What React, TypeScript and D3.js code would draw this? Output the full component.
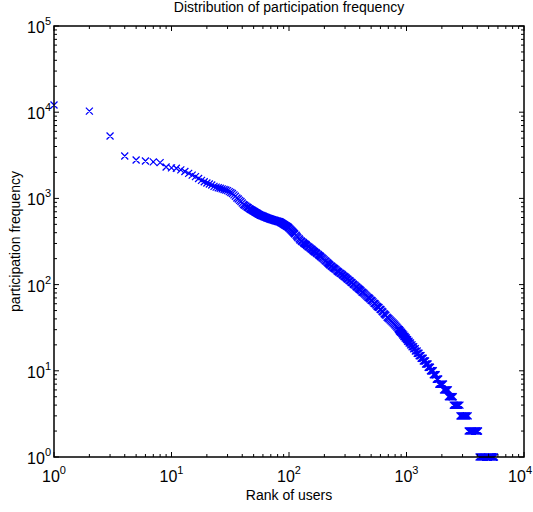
import React from 'react';
import * as d3 from 'd3';

const WIDTH = 533;
const HEIGHT = 512;

// Ranks 1..40 (rank = index + 1)
const headFreqs = [12100, 10300, 5300, 3100, 2790, 2720, 2650, 2600, 2310, 2260,
  2240, 2140, 2050, 1950, 1860, 1790, 1700, 1620, 1560, 1510,
  1470, 1430, 1380, 1350, 1330, 1310, 1290, 1270, 1250, 1230,
  1200, 1170, 1140, 1100, 1060, 1010, 985, 950, 920, 885];

// Ranks 41..100 (rank = 41 + index)
const midStartRank = 41;
const midFreqs = [851, 832, 813, 795, 779, 762, 748, 735, 723, 711,
  699, 688, 678, 667, 658, 648, 640, 634, 628, 622,
  616, 611, 606, 600, 595, 590, 586, 581, 577, 573,
  570, 567, 563, 560, 557, 554, 551, 548, 545, 543,
  540, 537, 535, 532, 526, 521, 516, 511, 506, 501,
  496, 492, 487, 483, 479, 474, 470, 466, 460, 453];

const bodyRanks = [102, 104, 106, 108, 110, 112, 115, 117, 119, 122,
  124, 127, 129, 132, 134, 137, 140, 142, 145, 148,
  151, 154, 157, 160, 163, 166, 170, 173, 177, 180,
  184, 187, 191, 195, 199, 203, 207, 211, 215, 219,
  223, 228, 232, 237, 242, 246, 251, 256, 261, 266,
  272, 277, 283, 288, 294, 300, 306, 312, 318, 324,
  331, 337, 344, 351, 357, 365, 372, 379, 387, 394,
  402, 410, 418, 426, 435, 443, 452, 461, 470, 480,
  489, 499, 509, 519, 529, 540, 550, 561, 572, 584,
  595, 607, 619, 631, 644, 656, 669, 683, 696, 710,
  724, 738, 753, 768, 783, 798, 814, 830, 847];
const bodyFreqs = [442, 430, 419, 408, 397, 386, 374, 362, 351, 340,
  329, 322, 315, 309, 302, 296, 290, 283, 277, 272,
  266, 260, 255, 249, 244, 239, 234, 229, 224, 219,
  215, 210, 205, 200, 195, 190, 186, 181, 177, 173,
  169, 165, 162, 158, 155, 152, 149, 145, 142, 139,
  136, 134, 131, 128, 125, 123, 120, 117, 115, 112,
  110, 107, 105, 102, 100, 98, 95, 93, 91, 89,
  87, 85, 82, 81, 79, 77, 75, 73, 71, 70,
  68, 66, 65, 63, 61, 60, 58, 56, 55, 54,
  52, 51, 49, 48, 46, 45, 44, 42, 41, 40,
  39, 38, 37, 36, 35, 34, 33, 32, 31];

const tailRanks = [856, 870, 872, 888, 890, 909, 911, 928, 930, 949, 951, 972, 974, 997, 999, 1022,
  1024, 1051, 1053, 1081, 1083, 1114, 1116, 1150, 1152, 1188, 1190, 1232,
  1234, 1256, 1278, 1280, 1305, 1330, 1332, 1360, 1388, 1390, 1420, 1452,
  1454, 1480, 1505, 1526, 1528, 1550, 1575, 1599, 1600, 1630, 1660, 1690,
  1691, 1725, 1760, 1790, 1791, 1825, 1855, 1880,
  1881, 1920, 1960, 2000, 2035, 2065,
  2066, 2110, 2150, 2190, 2230, 2270,
  2271, 2320, 2370, 2420, 2460, 2500,
  2501, 2555, 2610, 2665, 2720, 2775, 2850,
  2851, 2910, 2970, 3030, 3090, 3150, 3210, 3270, 3350,
  3351, 3430, 3510, 3590, 3670, 3750, 3830, 3910, 3990, 4060, 4100,
  4150, 4250, 4350, 4450, 4550, 4650, 4750, 4850, 4950, 5050, 5150, 5250, 5350, 5450, 5550, 5600];
const tailFreqs = [30, 30, 29, 29, 28, 28, 27, 27, 26, 26, 25, 25, 24, 24, 23, 23,
  22, 22, 21, 21, 20, 20, 19, 19, 18, 18, 17, 17,
  16, 16, 16, 15, 15, 15, 14, 14, 14, 13, 13, 13,
  12, 12, 12, 12, 11, 11, 11, 11, 10, 10, 10, 10,
  9, 9, 9, 9, 8, 8, 8, 8,
  7, 7, 7, 7, 7, 7,
  6, 6, 6, 6, 6, 6,
  5, 5, 5, 5, 5, 5,
  4, 4, 4, 4, 4, 4, 4,
  3, 3, 3, 3, 3, 3, 3, 3, 3,
  2, 2, 2, 2, 2, 2, 2, 2, 2, 2, 2,
  1, 1, 1, 1, 1, 1, 1, 1, 1, 1, 1, 1, 1, 1, 1, 1];

const xMajor = [1, 10, 100, 1000, 10000];
const yMajor = [1, 10, 100, 1000, 10000, 100000];

const titleText = 'Distribution of participation frequency';
const xLabel = 'Rank of users';
const yLabel = 'participation frequency';

const FONT = 'Liberation Sans, Arial, Helvetica, sans-serif';

export default function App() {
  const left = 54, right = 524, top = 26, bottom = 457;
  const x = d3.scaleLog().domain([1, 1e4]).range([left, right]);
  const y = d3.scaleLog().domain([1, 1e5]).range([bottom, top]);

  const pts: [number, number][] = [];
  headFreqs.forEach((f, i) => pts.push([i + 1, f]));
  midFreqs.forEach((f, i) => pts.push([midStartRank + i, f]));
  bodyRanks.forEach((r, i) => pts.push([r, bodyFreqs[i]]));
  tailRanks.forEach((r, i) => pts.push([r, tailFreqs[i]]));

  const xMinor = x.ticks().filter(t => !xMajor.includes(t));
  const yMinor = y.ticks().filter(t => !yMajor.includes(t));
  const major = 5, minor = 3;
  const s = 3.5;

  const markerPath = pts.map(([r, f]) => {
    const cx = x(r), cy = y(f);
    return `M${cx - s},${cy - s}L${cx + s},${cy + s}M${cx - s},${cy + s}L${cx + s},${cy - s}`;
  }).join('');

  const exp = (v: number) => Math.round(Math.log10(v)).toString();

  return (
    <svg width={WIDTH} height={HEIGHT} style={{ position: 'absolute', left: 0, top: 0, background: '#fff' }}
      fontFamily={FONT}>
      <rect x={0} y={0} width={WIDTH} height={HEIGHT} fill="#fff" />
      <path d={markerPath} stroke="#0000ff" strokeWidth={1.25} fill="none" />
      <g stroke="#000" strokeWidth={1}>
        {xMajor.map(t => (
          <g key={'xm' + t}>
            <line x1={x(t)} x2={x(t)} y1={bottom} y2={bottom - major} />
            <line x1={x(t)} x2={x(t)} y1={top} y2={top + major} />
          </g>
        ))}
        {xMinor.map(t => (
          <g key={'xn' + t}>
            <line x1={x(t)} x2={x(t)} y1={bottom} y2={bottom - minor} />
            <line x1={x(t)} x2={x(t)} y1={top} y2={top + minor} />
          </g>
        ))}
        {yMajor.map(t => (
          <g key={'ym' + t}>
            <line x1={left} x2={left + major} y1={y(t)} y2={y(t)} />
            <line x1={right} x2={right - major} y1={y(t)} y2={y(t)} />
          </g>
        ))}
        {yMinor.map(t => (
          <g key={'yn' + t}>
            <line x1={left} x2={left + minor} y1={y(t)} y2={y(t)} />
            <line x1={right} x2={right - minor} y1={y(t)} y2={y(t)} />
          </g>
        ))}
      </g>
      <rect x={left} y={top} width={right - left} height={bottom - top} fill="none" stroke="#000" strokeWidth={1.5} />
      {xMajor.map((t, i) => {
        const last = i === xMajor.length - 1;
        return (
          <text key={'xl' + t} x={last ? 532 : x(t)} y={482} textAnchor={last ? 'end' : 'middle'} fontSize={16} fill="#000">
            <tspan>10</tspan><tspan dy={-8} fontSize={11}>{exp(t)}</tspan>
          </text>
        );
      })}
      {yMajor.map(t => (
        <text key={'yl' + t} x={51} y={y(t) + 7} textAnchor="end" fontSize={16} fill="#000">
          <tspan>10</tspan><tspan dy={-8} fontSize={11}>{exp(t)}</tspan>
        </text>
      ))}
      <text x={(left + right) / 2} y={12} textAnchor="middle" fontSize={14} fill="#000">{titleText}</text>
      <text x={(left + right) / 2} y={500} textAnchor="middle" fontSize={14} fill="#000">{xLabel}</text>
      <text transform={`translate(20,${(top + bottom) / 2}) rotate(-90)`} textAnchor="middle" fontSize={14} fill="#000">{yLabel}</text>
    </svg>
  );
}
